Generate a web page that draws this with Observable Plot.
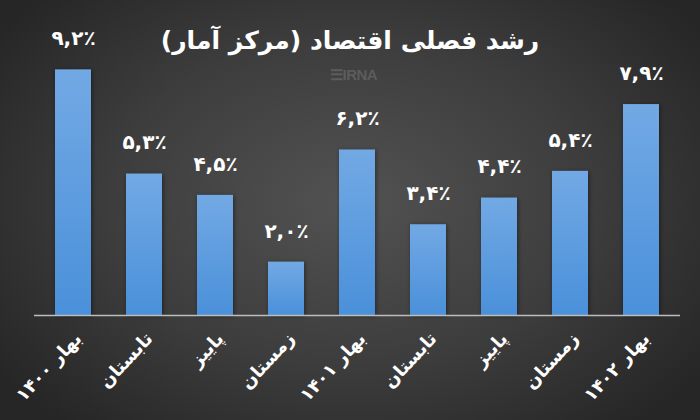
<!DOCTYPE html>
<html><head><meta charset="utf-8">
<script src="https://cdn.jsdelivr.net/npm/d3@7"></script>
<script src="https://cdn.jsdelivr.net/npm/@observablehq/plot@0.6"></script>
<style>
html,body{margin:0;padding:0;}
body{width:700px;height:420px;overflow:hidden;position:relative;font-family:"DejaVu Sans",sans-serif;
background:radial-gradient(ellipse 62% 70% at 50% 48%, #525252 0%, #3d3d3d 55%, #262626 100%);}
#title{position:absolute;top:23px;left:0;width:700px;text-align:center;color:#fff;font-size:25px;font-weight:bold;direction:rtl;line-height:36px;}
#mark{position:absolute;top:66px;left:330px;color:#5c5c5c;font-size:15px;font-weight:bold;font-family:"Liberation Sans",sans-serif;letter-spacing:-0.5px;}
#chart{position:absolute;top:0;left:0;}
</style></head><body>
<div id="chart"></div>
<div id="title">رشد فصلی اقتصاد (مرکز آمار)</div>
<div id="mark">☰IRNA</div>
<script>
const quarterLabels = ["بهار ۱۴۰۰","تابستان","پاییز","زمستان","بهار ۱۴۰۱","تابستان","پاییز","زمستان","بهار ۱۴۰۲"];
const growthValues = [9.2, 5.3, 4.5, 2.0, 6.2, 3.4, 4.4, 5.4, 7.9];
const valueLabels = ["۹,۲٪","۵,۳٪","۴,۵٪","۲,۰٪","۶,۲٪","۳,۴٪","۴,۴٪","۵,۴٪","۷,۹٪"];

const data = growthValues.map((v, i) => ({i, v, name: quarterLabels[i], lbl: valueLabels[i]}));

const plot = Plot.plot({
  width: 700,
  height: 420,
  marginLeft: 34,
  marginRight: 20,
  marginTop: 48,
  marginBottom: 105,
  style: {background: "transparent", overflow: "visible", fontFamily: "'DejaVu Sans', sans-serif"},
  x: {type: "band", domain: data.map(d => d.i), paddingInner: 0.5, paddingOuter: 0.25, axis: null},
  y: {domain: [0, 10], axis: null},
  marks: [
    Plot.barY(data, {x: "i", y: "v", fill: "url(#barGrad)"}),
    Plot.ruleY([0], {stroke: "#bdbdbd", strokeWidth: 1.5}),
    Plot.text(data, {x: "i", y: "v", text: "lbl", dy: -31, fill: "white", fontSize: 20, fontWeight: "bold"}),
    Plot.text(data, {x: "i", text: "name", frameAnchor: "bottom", rotate: -47, textAnchor: "end", dx: 9, dy: 24, fill: "white", fontSize: 18, fontWeight: "bold"})
  ]
});
d3.select(plot).insert("defs", ":first-child").html(
  '<linearGradient id="barGrad" x1="0" y1="0" x2="0" y2="1">' +
  '<stop offset="0" stop-color="#72a9e4"/><stop offset="1" stop-color="#4a90da"/></linearGradient>');
d3.select(plot).selectAll("g[aria-label='bar'] rect").style("filter", "drop-shadow(1px 1px 2px rgba(0,0,0,0.45))");
document.getElementById("chart").appendChild(plot);
</script>
</body></html>
